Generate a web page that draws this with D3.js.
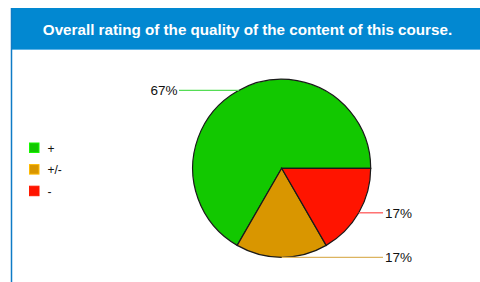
<!DOCTYPE html>
<html><head><meta charset="utf-8">
<script src="https://cdn.jsdelivr.net/npm/d3@7"></script>
<style>html,body{margin:0;padding:0;background:#fff;}svg{display:block;}</style>
</head><body>
<svg id="c" width="480" height="282"></svg>
<script>
const title = "Overall rating of the quality of the content of this course.";
const categories = ["+", "+/-", "-"];
const values = [4, 1, 1];
const colors = ["#12c800", "#d99600", "#ff1400"];
const lineColors = ["#55dd55", "#dcb460", "#ff5a5a"];

const svg = d3.select("#c");
svg.append("rect").attr("x",11).attr("y",8).attr("width",469).attr("height",42).attr("fill","#0288d1");
svg.append("line").attr("x1",11).attr("x2",480).attr("y1",49.5).attr("y2",49.5).attr("stroke","#5fb3e6");
svg.append("line").attr("x1",11.5).attr("x2",11.5).attr("y1",8).attr("y2",282).attr("stroke","#0f7bc6").attr("stroke-width",1.5);
svg.append("text").attr("x",247.5).attr("y",34.5).attr("text-anchor","middle")
  .attr("font-family","Liberation Sans, Arial, sans-serif").attr("font-weight","bold").attr("font-size",15.2)
  .attr("fill","#fff").text(title);

const total = d3.sum(values);
const cx = 281.7, cy = 168.3, r = 89;
const pie = d3.pie().sort(null).startAngle(Math.PI/2).endAngle(Math.PI/2 - 2*Math.PI);
const arcs = pie(values);
const arc = d3.arc().innerRadius(0).outerRadius(r);
const g = svg.append("g").attr("transform",`translate(${cx},${cy})`);
g.selectAll("path").data(arcs).join("path").attr("d",arc)
  .attr("fill",(d,i)=>colors[i]).attr("stroke","#1a1a1a").attr("stroke-width",1.2);

const labelFmt = v => Math.round(v/total*100) + "%";
const lblFont = {family:"Liberation Sans, Arial, sans-serif", size:13.5};
arcs.forEach((d,i)=>{
  const a = (d.startAngle + d.endAngle)/2;
  let px = Math.sin(a)*r, py = -Math.cos(a)*r;
  if (i===0) {
    const ly = -78; px = -Math.sqrt(r*r - ly*ly);
    g.append("line").attr("x1",px).attr("x2",179-cx).attr("y1",ly).attr("y2",ly).attr("stroke",lineColors[i]).attr("stroke-width",1.3);
    g.append("text").attr("x",177.5-cx).attr("y",ly+5).attr("text-anchor","end")
      .attr("font-family",lblFont.family).attr("font-size",lblFont.size).attr("fill","#111").text(labelFmt(values[i]));
  } else {
    g.append("line").attr("x1",px).attr("x2",383-cx).attr("y1",py).attr("y2",py).attr("stroke",lineColors[i]).attr("stroke-width",1.3);
    g.append("text").attr("x",385-cx).attr("y",py+5).attr("text-anchor","start")
      .attr("font-family",lblFont.family).attr("font-size",lblFont.size).attr("fill","#111").text(labelFmt(values[i]));
  }
});

const lg = svg.append("g");
categories.forEach((c,i)=>{
  const y = 143 + i*21.6;
  lg.append("rect").attr("x",29.5).attr("y",y).attr("width",9.5).attr("height",9.5)
    .attr("fill",colors[i]).attr("stroke",d3.color(colors[i]).brighter(0.6)).attr("stroke-width",1);
  lg.append("text").attr("x",47.5).attr("y",y+9.5).attr("font-family","Liberation Sans, Arial, sans-serif")
    .attr("font-size",12).attr("fill","#111").text(c);
});
</script>
</body></html>
